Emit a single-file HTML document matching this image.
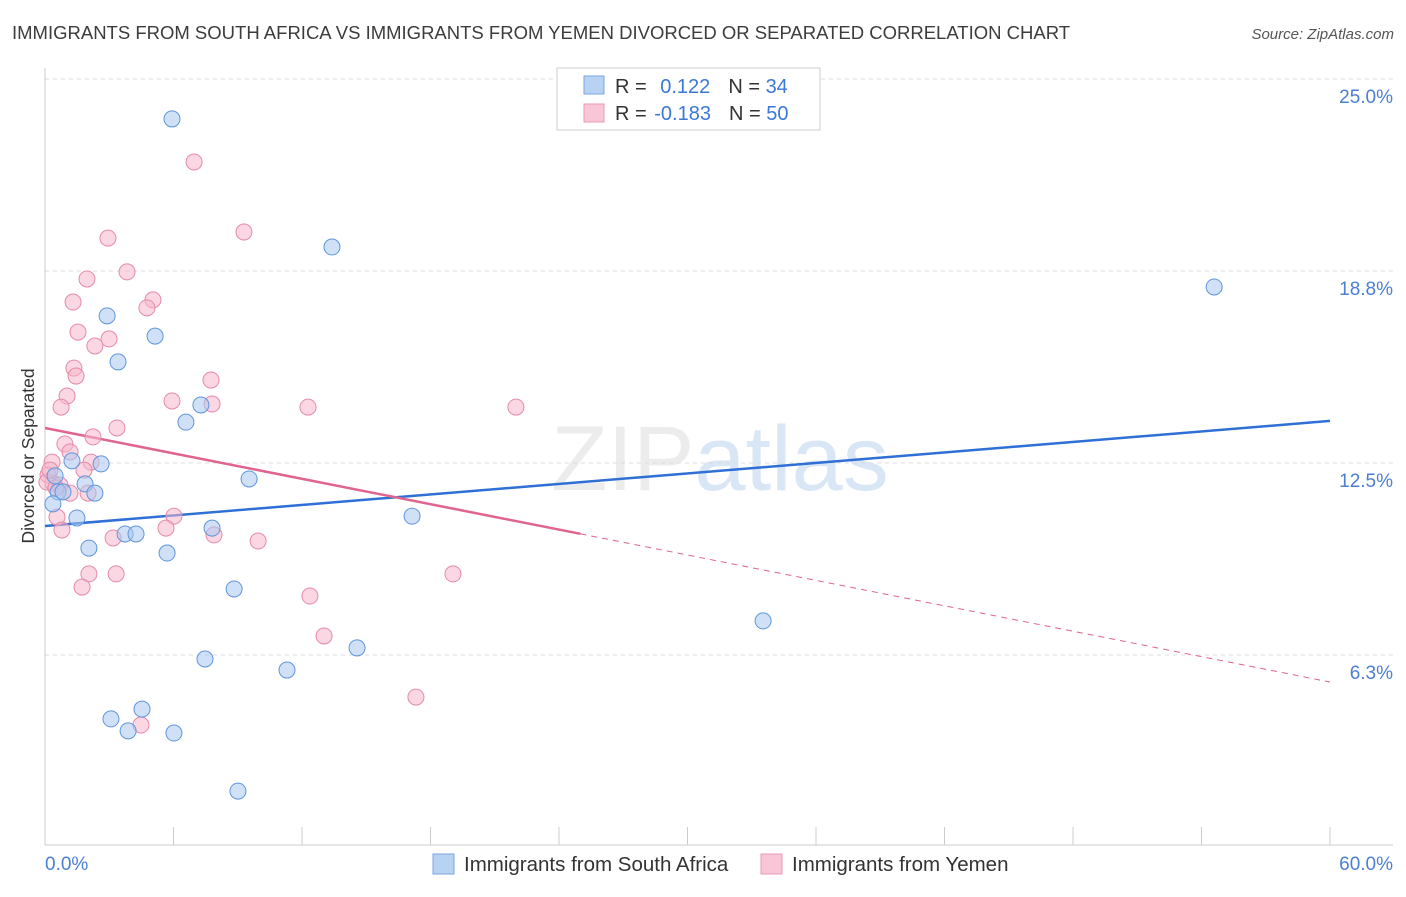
<!DOCTYPE html>
<html><head><meta charset="utf-8"><style>
body{margin:0;background:#fff;font-family:"Liberation Sans",sans-serif;}
svg text{font-family:"Liberation Sans",sans-serif;}
</style></head><body>
<svg id="chart" width="1406" height="892" viewBox="0 0 1406 892" xmlns="http://www.w3.org/2000/svg">
<text x="12" y="39" font-size="18.5" fill="#3c3c3c">IMMIGRANTS FROM SOUTH AFRICA VS IMMIGRANTS FROM YEMEN DIVORCED OR SEPARATED CORRELATION CHART</text>
<text x="1394" y="39" font-size="15" fill="#555" text-anchor="end" font-style="italic">Source: ZipAtlas.com</text>
<text x="720" y="490" font-size="92" fill="#ececec" text-anchor="middle" font-family="Liberation Serif">ZIP<tspan fill="#d8e6f5" font-family="Liberation Sans">atlas</tspan></text>
<g id="grid"></g>
<g id="axes"></g>
<g id="lines"></g>
<g id="points"></g>
<text transform="translate(34,456) rotate(-90)" font-size="17.5" fill="#333" text-anchor="middle">Divorced or Separated</text>
<text x="45" y="870" font-size="19" fill="#4a7fd4">0.0%</text>
<text x="1393" y="870" font-size="19" fill="#4a7fd4" text-anchor="end">60.0%</text>
<g>
<rect x="557" y="68" width="263" height="62" fill="#fff" stroke="#ccc"/>
<rect x="584" y="76" width="20" height="18" fill="#b8d2f4" stroke="#7aa6e0"/>
<rect x="584" y="104" width="20" height="18" fill="#f8c6d6" stroke="#ea9ab4"/>
<text x="615" y="93" font-size="20" fill="#333">R = <tspan fill="#3b78d8" dx="8">0.122</tspan><tspan dx="18">N = </tspan><tspan fill="#3b78d8">34</tspan></text>
<text x="615" y="120" font-size="20" fill="#333">R = <tspan fill="#3b78d8" dx="2">-0.183</tspan><tspan dx="18">N = </tspan><tspan fill="#3b78d8">50</tspan></text>
</g>
<g>
<rect x="433" y="854" width="21" height="20" fill="#b8d2f4" stroke="#7aa6e0"/>
<text x="464" y="871" font-size="20.5" fill="#333">Immigrants from South Africa</text>
</g>
<g>
<rect x="761" y="854" width="21" height="20" fill="#f8c6d6" stroke="#ea9ab4"/>
<text x="792" y="871" font-size="20.5" fill="#333">Immigrants from Yemen</text>
</g>
</svg>
<script>
const yTicks=[6.25,12.5,18.75,25];
const yTickLabels=["6.3%","12.5%","18.8%","25.0%"];
const xTicks=[0,6,12,18,24,30,36,42,48,54,60];
const blueX=[5.93,13.40,54.59,2.90,5.14,3.41,7.28,6.58,1.26,2.62,9.53,0.47,1.87,0.61,2.33,0.84,0.37,1.49,17.14,7.80,3.74,4.25,2.05,5.70,8.83,33.53,14.57,7.47,11.30,3.08,4.53,3.88,6.02,9.01];
const blueY=[23.7,19.53,18.23,17.29,16.63,15.79,14.39,13.83,12.57,12.47,11.98,12.08,11.82,11.56,11.52,11.56,11.17,10.71,10.77,10.38,10.19,10.19,9.73,9.57,8.40,7.36,6.48,6.12,5.76,4.17,4.49,3.78,3.71,1.82];
const pinkX=[6.96,9.29,2.94,3.83,1.96,1.31,5.04,4.76,1.54,2.99,2.33,1.35,1.45,7.75,1.03,5.93,7.80,12.28,21.99,0.75,3.36,2.24,0.93,1.17,0.33,2.15,1.82,0.14,0.37,0.09,0.70,1.17,2.01,0.56,6.02,0.79,5.65,7.89,3.18,9.95,2.05,3.32,19.05,1.73,12.37,13.03,17.32,4.48,0.23,0.51];
const pinkY=[22.30,20.02,19.82,18.72,18.49,17.74,17.81,17.55,16.76,16.54,16.31,15.59,15.33,15.20,14.68,14.52,14.42,14.32,14.32,14.32,13.64,13.35,13.12,12.86,12.53,12.53,12.27,12.11,11.85,11.88,11.78,11.52,11.52,10.74,10.77,10.32,10.38,10.16,10.06,9.96,8.89,8.89,8.89,8.46,8.17,6.87,4.88,3.97,12.27,11.69];
const blueTrend=[10.45,13.87];
const pinkTrend=[13.64,5.37];
const pinkSolidEnd=25;
const NS="http://www.w3.org/2000/svg";
const X=v=>45+v/60*1285;
const Y=v=>463-(v-12.5)*30.72;
function mk(tag,attrs,parent){const e=document.createElementNS(NS,tag);for(const k in attrs)e.setAttribute(k,attrs[k]);document.getElementById(parent).appendChild(e);return e;}
let g=mk('line',{x1:45,x2:1393,y1:79,y2:79,stroke:'#ddd','stroke-dasharray':'4,4'},'grid');


yTicks.forEach((t,i)=>{
 const l=mk('line',{x1:45,x2:1393,y1:Y(t),y2:Y(t),stroke:'#ddd','stroke-dasharray':'4,4'},'grid');
 
 
 const tx=mk('text',{x:1393,y:Y(t)+24,'font-size':19,fill:'#4a7fd4','text-anchor':'end'},'grid');
 tx.textContent=yTickLabels[i];
 
 
});
let a=mk('line',{x1:45,x2:45,y1:68,y2:845,stroke:'#ccc'},'axes');


a=mk('line',{x1:45,x2:1393,y1:845,y2:845,stroke:'#ccc'},'axes');


xTicks.forEach(t=>{
 const l=mk('line',{x1:X(t),x2:X(t),y1:827,y2:845,stroke:'#ccc'},'axes');
 
 
});
function circ(xs,ys,fill,stroke,name){xs.forEach((x,i)=>{
 const c=mk('circle',{cx:X(x),cy:Y(ys[i]),r:8,fill:fill,'fill-opacity':0.55,stroke:stroke,'stroke-width':1},'points');
 
 
});}
circ(pinkX,pinkY,'#f6b6ca','#e68aa8','yemen-point');
circ(blueX,blueY,'#a9c8f0','#5f95dc','south-africa-point');
let ln=mk('line',{x1:X(0),y1:Y(blueTrend[0]),x2:X(60),y2:Y(blueTrend[1]),stroke:'#2f6fd6','stroke-width':2.5},'lines');


const py=x=>pinkTrend[0]+(pinkTrend[1]-pinkTrend[0])*x/60;
ln=mk('line',{x1:X(0),y1:Y(py(0)),x2:X(pinkSolidEnd),y2:Y(py(pinkSolidEnd)),stroke:'#e0648e','stroke-width':2.5},'lines');


ln=mk('line',{x1:X(pinkSolidEnd),y1:Y(py(pinkSolidEnd)),x2:X(60),y2:Y(py(60)),stroke:'#e0648e','stroke-width':1,'stroke-dasharray':'6,5'},'lines');


</script>
</body></html>
